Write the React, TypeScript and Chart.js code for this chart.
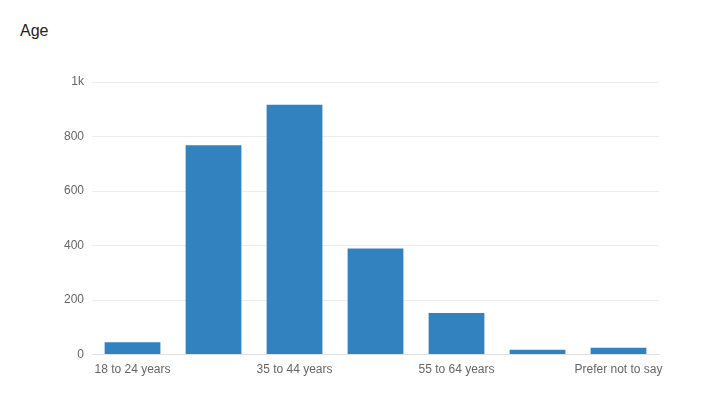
import { useEffect, useRef } from "react";
import { Chart, registerables } from "chart.js";

Chart.register(...registerables);

const categories = [
  "18 to 24 years",
  "25 to 34 years",
  "35 to 44 years",
  "45 to 54 years",
  "55 to 64 years",
  "65 years or older",
  "Prefer not to say",
];
const counts = [45, 768, 917, 389, 153, 18, 25];
const yTicks = [0, 200, 400, 600, 800, 1000];

const FONT = "'Liberation Sans', Arial, Helvetica, sans-serif";

export default function App() {
  const chartRef = useRef<HTMLCanvasElement>(null);
  const chartInstance = useRef<Chart | null>(null);

  useEffect(() => {
    document.body.style.margin = "0";
    if (!chartRef.current) return;
    if (chartInstance.current) chartInstance.current.destroy();

    const ctx = chartRef.current.getContext("2d");
    if (!ctx) return;

    chartInstance.current = new Chart(ctx, {
      type: "bar",
      data: {
        labels: categories,
        datasets: [
          {
            label: "Age",
            data: counts,
            backgroundColor: "#3282bf",
            borderWidth: 0,
            barPercentage: 0.9,
            categoryPercentage: 0.765,
          },
        ],
      },
      options: {
        animation: false,
        responsive: false,
        maintainAspectRatio: false,
        layout: { padding: { top: 82, left: 56, right: 65, bottom: 33 } },
        plugins: {
          legend: { display: false },
          tooltip: { enabled: false },
        },
        scales: {
          x: {
            grid: { display: false },
            border: { color: "#e0e0e0" },
            ticks: {
              color: "#666",
              font: { family: FONT, size: 12 },
              maxRotation: 0,
              autoSkip: true,
              padding: 0,
            },
          },
          y: {
            min: 0,
            max: 1000,
            afterBuildTicks: (axis) => {
              axis.ticks = yTicks.map((v) => ({ value: v }));
            },
            grid: { color: "#ececec", drawTicks: false },
            border: { display: false },
            ticks: {
              color: "#666",
              font: { family: FONT, size: 12 },
              padding: 8,
              callback: (v) => (Number(v) === 1000 ? "1k" : String(v)),
            },
          },
        },
      },
    });

    return () => {
      if (chartInstance.current) {
        chartInstance.current.destroy();
        chartInstance.current = null;
      }
    };
  }, []);

  return (
    <div style={{ position: "relative", width: 724, height: 410, background: "#fff" }}>
      <div
        style={{
          position: "absolute",
          left: 20,
          top: 22,
          fontFamily: FONT,
          fontSize: 16,
          color: "#222",
        }}
      >
        Age
      </div>
      <canvas
        ref={chartRef}
        width={724}
        height={410}
        style={{ position: "absolute", left: 0, top: 0, width: 724, height: 410 }}
      />
    </div>
  );
}
